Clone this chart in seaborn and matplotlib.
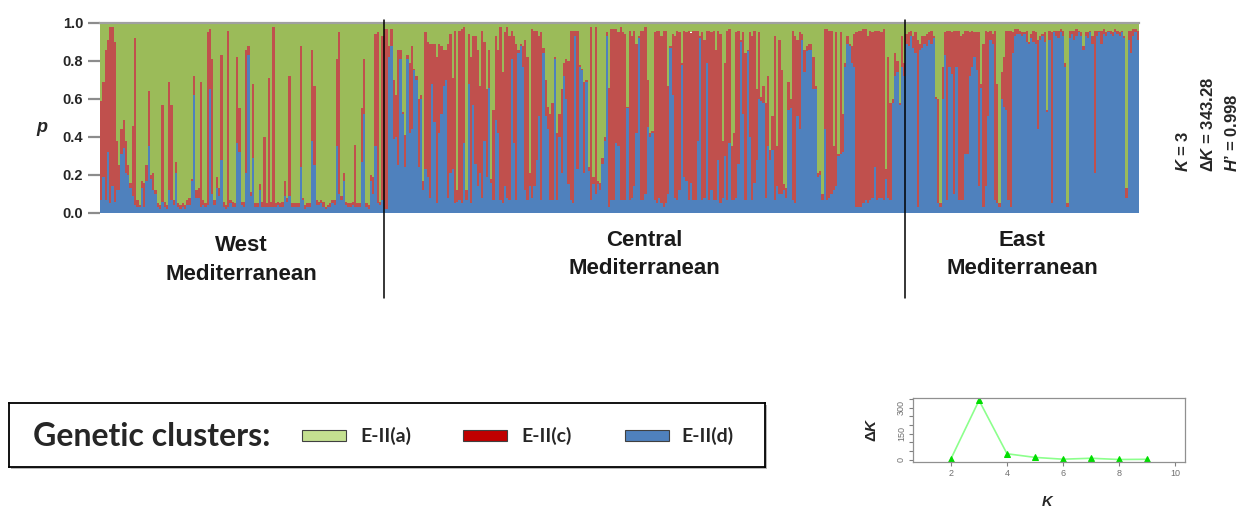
import numpy as np
import pandas as pd
import matplotlib
matplotlib.use("Agg")
import matplotlib.pyplot as plt
import matplotlib.transforms as mtransforms
from matplotlib.patches import Rectangle
import seaborn as sns

# Membership, one entry per individual.
# *_d  = proportion of E-II(d) (blue, bottom)
# *_dc = cumulative E-II(d) + E-II(c) (top of the red block); E-II(a) fills the rest
west_d = [0.07, 0.19, 0.07, 0.32, 0.05, 0.14, 0.06, 0.12, 0.12, 0.31,
          0.34, 0.21, 0.20, 0.13, 0.09, 0.04, 0.03, 0.03, 0.13, 0.03,
          0.17, 0.35, 0.18, 0.12, 0.10, 0.03, 0.02, 0.06, 0.03, 0.02,
          0.12, 0.07, 0.04, 0.21, 0.03, 0.02, 0.03, 0.02, 0.04, 0.04,
          0.17, 0.62, 0.08, 0.08, 0.03, 0.04, 0.03, 0.04, 0.65, 0.10,
          0.04, 0.13, 0.09, 0.28, 0.03, 0.02, 0.03, 0.05, 0.03, 0.03,
          0.37, 0.32, 0.04, 0.03, 0.21, 0.83, 0.09, 0.29, 0.03, 0.03,
          0.12, 0.03, 0.03, 0.03, 0.03, 0.03, 0.03, 0.03, 0.04, 0.03,
          0.03, 0.09, 0.06, 0.09, 0.03, 0.03, 0.03, 0.03, 0.24, 0.07,
          0.02, 0.03, 0.03, 0.38, 0.25, 0.04, 0.04, 0.05, 0.03, 0.02,
          0.03, 0.03, 0.05, 0.04, 0.35, 0.10, 0.07, 0.17, 0.04, 0.03,
          0.03, 0.04, 0.03, 0.03, 0.03, 0.27, 0.52, 0.03, 0.02, 0.17,
          0.10, 0.35, 0.05, 0.04, 0.07]
west_dc = [0.59, 0.69, 0.86, 0.91, 0.98, 0.98, 0.90, 0.38, 0.25, 0.44,
           0.49, 0.38, 0.25, 0.16, 0.46, 0.92, 0.07, 0.04, 0.17, 0.16,
           0.25, 0.64, 0.20, 0.21, 0.12, 0.05, 0.04, 0.57, 0.06, 0.04,
           0.69, 0.57, 0.07, 0.27, 0.05, 0.04, 0.05, 0.04, 0.07, 0.08,
           0.18, 0.72, 0.12, 0.13, 0.69, 0.07, 0.05, 0.95, 0.97, 0.81,
           0.07, 0.19, 0.13, 0.83, 0.06, 0.04, 0.96, 0.07, 0.06, 0.05,
           0.82, 0.55, 0.06, 0.06, 0.86, 0.88, 0.11, 0.68, 0.05, 0.05,
           0.15, 0.06, 0.40, 0.05, 0.71, 0.06, 0.98, 0.05, 0.06, 0.05,
           0.06, 0.17, 0.08, 0.72, 0.05, 0.05, 0.05, 0.05, 0.88, 0.08,
           0.04, 0.05, 0.05, 0.86, 0.67, 0.07, 0.06, 0.07, 0.06, 0.03,
           0.04, 0.05, 0.07, 0.07, 0.81, 0.95, 0.09, 0.21, 0.06, 0.05,
           0.05, 0.06, 0.36, 0.05, 0.05, 0.55, 0.81, 0.05, 0.04, 0.20,
           0.19, 0.94, 0.95, 0.06, 0.93]

central_d = [0.02, 0.02, 0.82, 0.88, 0.39, 0.40, 0.25, 0.81, 0.52, 0.24,
             0.81, 0.42, 0.44, 0.75, 0.70, 0.24, 0.60, 0.12, 0.23, 0.19,
             0.08, 0.68, 0.48, 0.05, 0.42, 0.52, 0.67, 0.70, 0.08, 0.21,
             0.23, 0.05, 0.06, 0.07, 0.05, 0.37, 0.07, 0.68, 0.05, 0.57,
             0.26, 0.14, 0.21, 0.08, 0.38, 0.19, 0.66, 0.16, 0.07, 0.49,
             0.42, 0.07, 0.05, 0.14, 0.08, 0.07, 0.81, 0.37, 0.07, 0.84,
             0.88, 0.77, 0.12, 0.07, 0.14, 0.08, 0.14, 0.28, 0.51, 0.07,
             0.84, 0.51, 0.44, 0.07, 0.07, 0.81, 0.07, 0.40, 0.21, 0.72,
             0.60, 0.15, 0.07, 0.05, 0.93, 0.23, 0.77, 0.75, 0.21, 0.69,
             0.22, 0.07, 0.15, 0.10, 0.15, 0.12, 0.26, 0.38, 0.93, 0.03,
             0.07, 0.07, 0.37, 0.35, 0.07, 0.07, 0.07, 0.55, 0.07, 0.08,
             0.14, 0.42, 0.92, 0.07, 0.07, 0.10, 0.45, 0.40, 0.42, 0.07,
             0.05, 0.08, 0.05, 0.03, 0.05, 0.10, 0.87, 0.62, 0.08, 0.07,
             0.12, 0.78, 0.19, 0.17, 0.07, 0.16, 0.07, 0.07, 0.38, 0.92,
             0.07, 0.08, 0.79, 0.07, 0.12, 0.07, 0.07, 0.28, 0.05, 0.08,
             0.30, 0.07, 0.37, 0.07, 0.07, 0.08, 0.26, 0.90, 0.52, 0.07,
             0.85, 0.40, 0.07, 0.16, 0.28, 0.60, 0.59, 0.58, 0.08, 0.35,
             0.28, 0.33, 0.07, 0.14, 0.10, 0.10, 0.12, 0.08, 0.54, 0.55,
             0.07, 0.05, 0.51, 0.44, 0.91, 0.74, 0.85, 0.86, 0.86, 0.65,
             0.65, 0.19, 0.20, 0.07, 0.44, 0.07, 0.08, 0.10, 0.12, 0.14,
             0.30, 0.31, 0.32, 0.77, 0.89, 0.88, 0.79, 0.77, 0.03, 0.03,
             0.03, 0.05, 0.07, 0.05, 0.07, 0.08, 0.24, 0.07, 0.08, 0.08,
             0.07, 0.18, 0.08, 0.07, 0.58, 0.72, 0.74, 0.57, 0.77, 0.72]
central_dc = [0.97, 0.97, 0.88, 0.97, 0.70, 0.62, 0.86, 0.86, 0.53, 0.41,
              0.83, 0.79, 0.88, 0.76, 0.72, 0.60, 0.62, 0.17, 0.95, 0.90,
              0.89, 0.89, 0.89, 0.82, 0.89, 0.88, 0.86, 0.86, 0.89, 0.94,
              0.71, 0.96, 0.12, 0.96, 0.97, 0.98, 0.12, 0.94, 0.82, 0.93,
              0.93, 0.86, 0.67, 0.96, 0.90, 0.65, 0.86, 0.18, 0.54, 0.93,
              0.86, 0.98, 0.74, 0.95, 0.98, 0.93, 0.96, 0.93, 0.89, 0.86,
              0.89, 0.88, 0.91, 0.82, 0.21, 0.97, 0.96, 0.96, 0.93, 0.95,
              0.87, 0.70, 0.56, 0.52, 0.58, 0.82, 0.42, 0.52, 0.65, 0.79,
              0.81, 0.80, 0.96, 0.96, 0.96, 0.96, 0.78, 0.76, 0.69, 0.70,
              0.24, 0.98, 0.19, 0.98, 0.17, 0.16, 0.29, 0.40, 0.95, 0.66,
              0.97, 0.97, 0.97, 0.95, 0.98, 0.95, 0.94, 0.56, 0.96, 0.93,
              0.96, 0.89, 0.93, 0.96, 0.96, 0.98, 0.70, 0.42, 0.43, 0.95,
              0.96, 0.96, 0.93, 0.96, 0.96, 0.67, 0.88, 0.94, 0.93, 0.96,
              0.95, 0.79, 0.96, 0.95, 0.96, 0.95, 0.96, 0.96, 0.96, 0.93,
              0.95, 0.91, 0.96, 0.96, 0.95, 0.96, 0.86, 0.96, 0.94, 0.38,
              0.79, 0.96, 0.97, 0.35, 0.42, 0.95, 0.96, 0.91, 0.95, 0.84,
              0.86, 0.95, 0.93, 0.96, 0.65, 0.95, 0.61, 0.67, 0.58, 0.72,
              0.33, 0.51, 0.93, 0.35, 0.91, 0.75, 0.15, 0.13, 0.69, 0.60,
              0.96, 0.93, 0.91, 0.95, 0.94, 0.86, 0.88, 0.89, 0.89, 0.82,
              0.67, 0.21, 0.22, 0.10, 0.97, 0.97, 0.96, 0.96, 0.35, 0.95,
              0.31, 0.95, 0.52, 0.79, 0.93, 0.89, 0.88, 0.94, 0.95, 0.96,
              0.96, 0.97, 0.97, 0.93, 0.96, 0.95, 0.96, 0.96, 0.96, 0.95,
              0.97, 0.23, 0.82, 0.58, 0.60, 0.84, 0.80, 0.58, 0.93, 0.79]

east_d = [0.89, 0.88, 0.93, 0.87, 0.84, 0.03, 0.86, 0.87, 0.89, 0.88,
          0.91, 0.89, 0.92, 0.60, 0.05, 0.03, 0.60, 0.83, 0.07, 0.77,
          0.73, 0.10, 0.77, 0.07, 0.07, 0.07, 0.31, 0.31, 0.72, 0.77,
          0.82, 0.75, 0.14, 0.66, 0.03, 0.14, 0.51, 0.91, 0.89, 0.07,
          0.05, 0.03, 0.60, 0.56, 0.54, 0.07, 0.03, 0.84, 0.93, 0.94,
          0.94, 0.93, 0.94, 0.90, 0.89, 0.92, 0.90, 0.89, 0.44, 0.91,
          0.93, 0.90, 0.53, 0.91, 0.05, 0.95, 0.93, 0.92, 0.95, 0.93,
          0.77, 0.03, 0.92, 0.94, 0.91, 0.93, 0.95, 0.93, 0.86, 0.93,
          0.92, 0.95, 0.89, 0.21, 0.93, 0.95, 0.89, 0.94, 0.93, 0.95,
          0.94, 0.93, 0.95, 0.94, 0.93, 0.95, 0.92, 0.08, 0.91, 0.84,
          0.93, 0.95, 0.91]
east_dc = [0.94, 0.95, 0.96, 0.93, 0.95, 0.91, 0.89, 0.93, 0.93, 0.94,
           0.95, 0.96, 0.93, 0.61, 0.60, 0.05, 0.77, 0.95, 0.96, 0.96,
           0.95, 0.96, 0.96, 0.96, 0.93, 0.94, 0.96, 0.96, 0.95, 0.96,
           0.95, 0.95, 0.95, 0.68, 0.89, 0.96, 0.95, 0.96, 0.94, 0.96,
           0.68, 0.05, 0.74, 0.82, 0.96, 0.96, 0.96, 0.95, 0.97, 0.97,
           0.96, 0.95, 0.95, 0.96, 0.90, 0.94, 0.96, 0.95, 0.91, 0.93,
           0.94, 0.95, 0.54, 0.96, 0.95, 0.96, 0.96, 0.96, 0.97, 0.96,
           0.79, 0.05, 0.96, 0.96, 0.96, 0.97, 0.96, 0.95, 0.88, 0.95,
           0.95, 0.96, 0.93, 0.96, 0.96, 0.96, 0.96, 0.97, 0.95, 0.96,
           0.96, 0.95, 0.97, 0.96, 0.95, 0.96, 0.93, 0.13, 0.96, 0.96,
           0.97, 0.97, 0.96]

regions = ["West\nMediterranean", "Central\nMediterranean", "East\nMediterranean"]
clusters = ["E-II(a)", "E-II(c)", "E-II(d)"]
bar_colors = {"E-II(a)": "#9bbb59", "E-II(c)": "#c0504d", "E-II(d)": "#4f81bd"}
legend_colors = ["#c4e090", "#c00000", "#4f81bd"]

k_values = [2, 3, 4, 5, 6, 7, 8, 9]
delta_k = [6.0, 343.28, 34.0, 13.0, 2.5, 8.0, 0.8, 2.0]

# long table for the stacked histogram
d_all = np.array(west_d + central_d + east_d)
dc_all = np.array(west_dc + central_dc + east_dc)
n_ind = len(d_all)
ind = np.arange(n_ind)
df = pd.concat([
    pd.DataFrame({"ind": ind, "cluster": "E-II(a)", "q": 1 - dc_all}),
    pd.DataFrame({"ind": ind, "cluster": "E-II(c)", "q": dc_all - d_all}),
    pd.DataFrame({"ind": ind, "cluster": "E-II(d)", "q": d_all}),
])

sns.set_style("white")
plt.rcParams["font.family"] = ["Liberation Sans", "DejaVu Sans"]
plt.rcParams["mathtext.fontset"] = "custom"
plt.rcParams["mathtext.it"] = "Liberation Sans:italic:bold"
plt.rcParams["mathtext.rm"] = "Liberation Sans:bold"
plt.rcParams["mathtext.bf"] = "Liberation Sans:bold"

W, H = 1243, 511
fig = plt.figure(figsize=(W / 100, H / 100), dpi=100)

# main STRUCTURE bar plot
ax = fig.add_axes([100 / W, 1 - 213 / H, 1039 / W, 190 / H])
sns.histplot(data=df, x="ind", weights="q", hue="cluster", hue_order=clusters,
             palette=bar_colors, multiple="stack", discrete=True, shrink=1,
             element="bars", alpha=1, linewidth=0, legend=False, ax=ax)
ax.set_xlim(-0.5, n_ind - 0.5)
ax.set_ylim(0, 1)
ax.set_xlabel("")
ax.set_ylabel("")
ax.set_xticks([])
ax.set_yticks(np.arange(0, 1.01, 0.2))
ax.set_yticklabels([f"{v:.1f}" for v in np.arange(0, 1.01, 0.2)],
                   fontsize=10.5, fontweight="bold", color="#262626")
ax.tick_params(axis="y", length=9, width=1.6, color="#8c8c8c", pad=3, left=True)
for s in ["left", "right", "bottom"]:
    ax.spines[s].set_visible(False)
ax.spines["top"].set_color("#a0a0a0")
ax.spines["top"].set_linewidth(1.6)
fig.text(42 / W, 1 - 128 / H, "p", fontsize=13, fontweight="bold",
         fontstyle="italic", ha="center", va="center")

# region dividers and names
blend = mtransforms.blended_transform_factory(ax.transData, ax.transAxes)
n_w, n_c = len(west_d), len(central_d)
for xb in [n_w - 0.5, n_w + n_c - 0.5]:
    ax.axvline(xb, ymin=(213 - 298) / 190, ymax=(213 - 20) / 190,
               color="black", lw=1.1, clip_on=False, zorder=5)
centres = [(n_w - 1) / 2, n_w + (n_c - 1) / 2, n_w + n_c + (len(east_d) - 1) / 2]
label_y = [(213 - 260) / 190, (213 - 254.5) / 190, (213 - 254.5) / 190]
for name, xc, yc in zip(regions, centres, label_y):
    ax.text(xc, yc, name, transform=blend, ha="center", va="center",
            fontsize=16, fontweight="bold", linespacing=1.45, color="#1a1a1a")

# K statistics on the right
stats = [r"$\mathit{K}$ = 3", r"Δ$\mathit{K}$ = 343.28", r"$\mathit{H}$’ = 0.998"]
for xs, txt in zip([1183, 1208, 1232], stats):
    fig.text(xs / W, 1 - 172 / H, txt, rotation=90, ha="center", va="bottom",
             fontsize=12, fontweight="bold")

# legend box with a soft shadow
fig.patches.append(Rectangle((11 / W, 1 - 469 / H), 756 / W, 64 / H,
                             transform=fig.transFigure, facecolor="#b8b8b8",
                             edgecolor="none", zorder=-1))
lax = fig.add_axes([9 / W, 1 - 467 / H, 756 / W, 64 / H])
lax.set_facecolor("white")
lax.set_xlim(9, 765)
lax.set_ylim(467, 403)
lax.set_xticks([])
lax.set_yticks([])
for s in lax.spines.values():
    s.set_color("black")
    s.set_linewidth(1.3)
lax.text(33, 436, "Genetic clusters:", ha="left", va="center",
         fontsize=23, fontweight="bold", family="Lato")
for xs, xt, col, name in zip([302, 463, 625], [360, 521, 681], legend_colors, clusters):
    lax.add_patch(Rectangle((xs, 430), 44, 11, facecolor=col,
                            edgecolor="#404040", lw=0.8))
    lax.text(xt, 436, name, ha="left", va="center", fontsize=14,
             fontweight="bold", family="Lato")

# delta K inset
dax = fig.add_axes([913 / W, 1 - 462 / H, 272 / W, 64 / H])
sns.lineplot(x=k_values, y=delta_k, ax=dax, color="#8cff8c", lw=1.2,
             marker="^", markersize=5, markerfacecolor="#00dd00",
             markeredgecolor="#00dd00")
dax.set_xlim(0.64, 10.36)
dax.set_ylim(-13.7, 357)
dax.set_xticks([2, 4, 6, 8, 10])
dax.set_yticks(np.arange(0, 351, 50))
dax.set_yticklabels(["0", "", "", "150", "", "", "300", ""], rotation=90, va="center")
dax.tick_params(length=3, width=0.8, color="#808080", labelsize=6.5,
                labelcolor="#707070", pad=2, left=True, bottom=True)
for s in dax.spines.values():
    s.set_color("#909090")
    s.set_linewidth(0.9)
fig.text(872 / W, 1 - 430 / H, r"Δ$\mathit{K}$", rotation=90, ha="center",
         va="center", fontsize=11, fontweight="bold")
fig.text(1048 / W, 1 - 502 / H, r"$\mathit{K}$", ha="center", va="center",
         fontsize=10.5, fontweight="bold")

fig.savefig("out.png", dpi=100)
